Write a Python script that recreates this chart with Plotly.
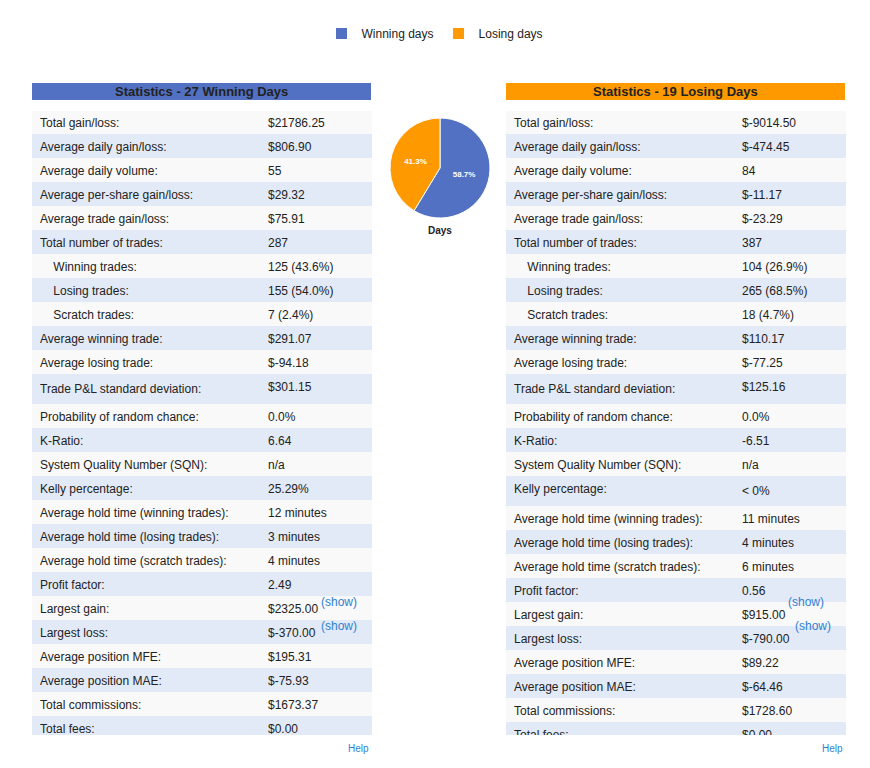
import plotly.graph_objects as go

# page body has an 8px margin, so the figure is drawn 16px smaller and offset
W, H = 854, 752
OFF = 8

day_labels = ["Winning days", "Losing days"]
day_counts = [27, 19]
colors = ["#5271c2", "#ff9900"]

stat_labels = [
    "Total gain/loss:", "Average daily gain/loss:", "Average daily volume:",
    "Average per-share gain/loss:", "Average trade gain/loss:", "Total number of trades:",
    "\u00a0\u00a0\u00a0\u00a0Winning trades:", "\u00a0\u00a0\u00a0\u00a0Losing trades:",
    "\u00a0\u00a0\u00a0\u00a0Scratch trades:",
    "Average winning trade:", "Average losing trade:", "Trade P&amp;L standard deviation:",
    "Probability of random chance:", "K-Ratio:", "System Quality Number (SQN):",
    "Kelly percentage:", "Average hold time (winning trades):",
    "Average hold time (losing trades):", "Average hold time (scratch trades):",
    "Profit factor:", "Largest gain:", "Largest loss:", "Average position MFE:",
    "Average position MAE:", "Total commissions:", "Total fees:",
]
winning_values = [
    "$21786.25", "$806.90", "55", "$29.32", "$75.91", "287", "125 (43.6%)",
    "155 (54.0%)", "7 (2.4%)", "$291.07", "$-94.18", "$301.15", "0.0%", "6.64",
    "n/a", "25.29%", "12 minutes", "3 minutes", "4 minutes", "2.49",
    "$2325.00", "$-370.00", "$195.31", "$-75.93", "$1673.37", "$0.00",
]
losing_values = [
    "$-9014.50", "$-474.45", "84", "$-11.17", "$-23.29", "387", "104 (26.9%)",
    "265 (68.5%)", "18 (4.7%)", "$110.17", "$-77.25", "$125.16", "0.0%", "-6.51",
    "n/a", "&lt; 0%", "11 minutes", "4 minutes", "6 minutes", "0.56",
    "$915.00", "$-790.00", "$89.22", "$-64.46", "$1728.60", "$0.00",
]
show_rows = [20, 21]  # rows with a "(show)" link after the value
titles = ["Statistics - 27 Winning Days", "Statistics - 19 Losing Days"]


def px(x):
    return (x - OFF) / W


def py(y):
    return 1 - (y - OFF) / H


row_fill = ["#f9f9f9" if i % 2 == 0 else "#e3eaf7" for i in range(len(stat_labels))]

fig = go.Figure()
shapes, annos = [], []
for (x0, x1), vals, title, col in zip([(32, 371), (506, 845)],
                                      [winning_values, losing_values], titles, colors):
    fig.add_trace(go.Table(
        domain=dict(x=[px(x0), px(x1)], y=[py(735), py(109)]),
        columnwidth=[228, 111],
        header=dict(values=["", ""], height=1, fill_color="white", line_color="white"),
        cells=dict(values=[stat_labels, vals], height=24, align="left",
                   fill_color=[row_fill, row_fill], line_color=[row_fill, row_fill],
                   font=dict(family="Arial", size=12, color="#222222")),
    ))
    shapes.append(dict(type="rect", xref="paper", yref="paper", x0=px(x0), x1=px(x1),
                       y0=py(100), y1=py(83), fillcolor=col, line_width=0))
    annos.append(dict(text="<b>" + title + "</b>", xref="paper", yref="paper",
                      x=px((x0 + x1) / 2), y=py(91.5), xanchor="center", yanchor="middle",
                      showarrow=False, font=dict(family="Arial", size=13, color="#222222")))
    annos.append(dict(text="Help", xref="paper", yref="paper", x=px(x1), y=py(748),
                      xanchor="right", yanchor="middle", showarrow=False,
                      font=dict(family="Arial", size=10, color="#2f7fd1")))
    for r in show_rows:
        tx = x0 + 228 + 6.7 * len(vals[r]) + 5
        annos.append(dict(text="(show)", xref="paper", yref="paper", x=px(tx),
                          y=py(110 + 24 * r + 12), xanchor="left", yanchor="middle",
                          showarrow=False,
                          font=dict(family="Arial", size=12, color="#2f7fd1")))

fig.add_trace(go.Pie(
    labels=day_labels, values=day_counts, sort=False, direction="clockwise", rotation=0,
    marker=dict(colors=colors, line=dict(color="white", width=1)),
    textinfo="percent", textposition="inside",
    textfont=dict(family="Arial", size=8, color="white", weight="bold"),
    domain=dict(x=[px(390), px(490)], y=[py(218), py(118)]), hoverinfo="label+value",
))
annos.append(dict(text="<b>Days</b>", xref="paper", yref="paper", x=px(440), y=py(230),
                  xanchor="center", yanchor="middle", showarrow=False,
                  font=dict(family="Arial", size=10, color="#222222")))

fig.update_layout(
    width=W, height=H, margin=dict(l=0, r=0, t=0, b=0),
    paper_bgcolor="white", plot_bgcolor="white",
    shapes=shapes, annotations=annos,
    legend=dict(orientation="h", x=0.5, xanchor="center", y=py(19), yanchor="top",
                font=dict(family="Arial", size=12, color="#222222")),
)
fig.write_html("out.html")
